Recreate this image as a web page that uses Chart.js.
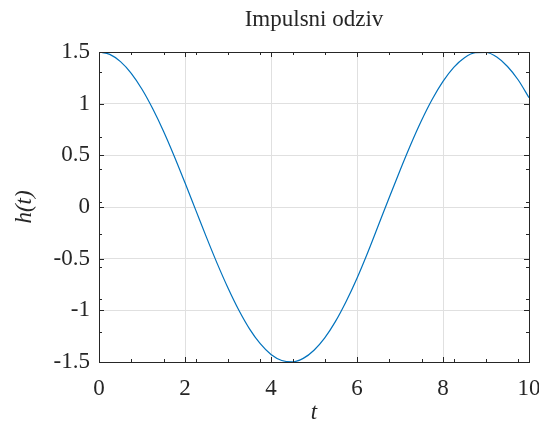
<!DOCTYPE html>
<html>
<head>
<meta charset="utf-8">
<script src="https://cdn.jsdelivr.net/npm/chart.js@4/dist/chart.umd.min.js"></script>
<style>
  html, body { margin: 0; padding: 0; background: #fff; }
  #wrap { width: 539px; height: 424px; }
</style>
</head>
<body>
<div id="wrap"><canvas id="chart" width="539" height="424"></canvas></div>
<script>
// values, t step 0.25
var tValues = [0, 0.25, 0.5, 0.75, 1, 1.25, 1.5, 1.75, 2, 2.25, 2.5, 2.75, 3, 3.25, 3.5, 3.75,
    4, 4.25, 4.5, 4.75, 5, 5.25, 5.5, 5.75, 6, 6.25, 6.5, 6.75, 7, 7.25, 7.5, 7.75,
    8, 8.25, 8.5, 8.75, 9, 9.25, 9.5, 9.75, 10];
var hValues = [1.5, 1.477, 1.407, 1.294, 1.140, 0.951, 0.734, 0.492, 0.234, -0.030, -0.294, -0.548,
    -0.784, -0.997, -1.179, -1.323, -1.427, -1.485, -1.498, -1.465, -1.386, -1.266, -1.107, -0.912,
    -0.689, -0.440, -0.174, 0.092, 0.353, 0.604, 0.836, 1.042, 1.215, 1.351, 1.444, 1.493,
    1.495, 1.451, 1.360, 1.229, 1.058];
var xMinorTicks = [0.75, 1.5, 2.25, 3, 3.75, 4.5, 5.25, 6, 6.75, 7.5, 8.25, 9, 9.75];
var yMinorTicks = [1.31, 0.995, 0.68, 0.365, 0.05, -0.265, -0.58, -0.895, -1.21];
var titleText = "Impulsni odziv";

var fontFamily = "'Liberation Serif', 'DejaVu Serif', serif";
var fontSize = 23;
var axisColor = "#262626";

var points = tValues.map(function (t, i) { return {x: t, y: hValues[i]}; });

// box round the plot, the inward tick marks and the title over the plot area
var frame = {
    id: "frame",
    afterDraw: function (chart) {
        var ctx = chart.ctx,
            a = chart.chartArea,
            xs = chart.scales.x,
            ys = chart.scales.y;

        ctx.save();
        ctx.strokeStyle = axisColor;
        ctx.lineWidth = 1;

        function tick(x1, y1, x2, y2) {
            ctx.beginPath();
            ctx.moveTo(x1, y1);
            ctx.lineTo(x2, y2);
            ctx.stroke();
        }

        xs.ticks.forEach(function (t) {
            var px = Math.round(xs.getPixelForValue(t.value)) + 0.5;
            tick(px, a.bottom, px, a.bottom - 5);
            tick(px, a.top, px, a.top + 5);
        });
        xMinorTicks.forEach(function (v) {
            var px = Math.round(xs.getPixelForValue(v)) + 0.5;
            tick(px, a.bottom, px, a.bottom - 3);
            tick(px, a.top, px, a.top + 3);
        });
        ys.ticks.forEach(function (t) {
            var py = Math.round(ys.getPixelForValue(t.value)) + 0.5;
            tick(a.left, py, a.left + 5, py);
            tick(a.right, py, a.right - 5, py);
        });
        yMinorTicks.forEach(function (v) {
            var py = Math.round(ys.getPixelForValue(v)) + 0.5;
            tick(a.left, py, a.left + 3, py);
            tick(a.right, py, a.right - 3, py);
        });

        ctx.strokeRect(Math.round(a.left) + 0.5, Math.round(a.top) + 0.5,
            Math.round(a.right - a.left), Math.round(a.bottom - a.top));

        ctx.fillStyle = axisColor;
        ctx.font = fontSize + "px " + fontFamily;
        ctx.textAlign = "center";
        ctx.textBaseline = "middle";
        ctx.fillText(titleText, (a.left + a.right) / 2, 20);
        ctx.restore();
    }
};

new Chart(document.getElementById("chart"), {
    type: "line",
    data: {
        datasets: [{
            data: points,
            borderColor: "#0072BD",
            borderWidth: 1.2,
            pointRadius: 0,
            fill: false,
            cubicInterpolationMode: "monotone"
        }]
    },
    options: {
        responsive: false,
        animation: false,
        layout: { padding: { left: 0, right: 10, top: 52, bottom: 0 } },
        plugins: {
            legend: { display: false },
            tooltip: { enabled: false },
            title: { display: false }
        },
        scales: {
            x: {
                type: "linear",
                min: 0,
                max: 10,
                afterFit: function (s) {
                    s.height = 62;
                    s.paddingLeft = 0;
                    s.paddingRight = 0;
                },
                ticks: {
                    stepSize: 2,
                    color: axisColor,
                    padding: 13,
                    maxRotation: 0,
                    font: { family: fontFamily, size: fontSize },
                    callback: function (v) { return String(v); }
                },
                grid: { color: "#e0e0e0", drawTicks: false },
                border: { display: false },
                title: {
                    display: true,
                    text: "t",
                    color: axisColor,
                    font: { family: fontFamily, size: fontSize, style: "italic", lineHeight: 1 },
                    padding: { top: 0, bottom: 0 }
                }
            },
            y: {
                min: -1.5,
                max: 1.5,
                afterFit: function (s) { s.width = 99; },
                ticks: {
                    stepSize: 0.5,
                    color: axisColor,
                    padding: 9,
                    font: { family: fontFamily, size: fontSize },
                    callback: function (v) { return String(v); }
                },
                grid: { color: "#e0e0e0", drawTicks: false },
                border: { display: false },
                title: {
                    display: true,
                    text: "h(t)",
                    color: axisColor,
                    font: { family: fontFamily, size: fontSize, style: "italic" },
                    padding: { top: 11, bottom: 0 }
                }
            }
        }
    },
    plugins: [frame]
});
</script>
</body>
</html>
